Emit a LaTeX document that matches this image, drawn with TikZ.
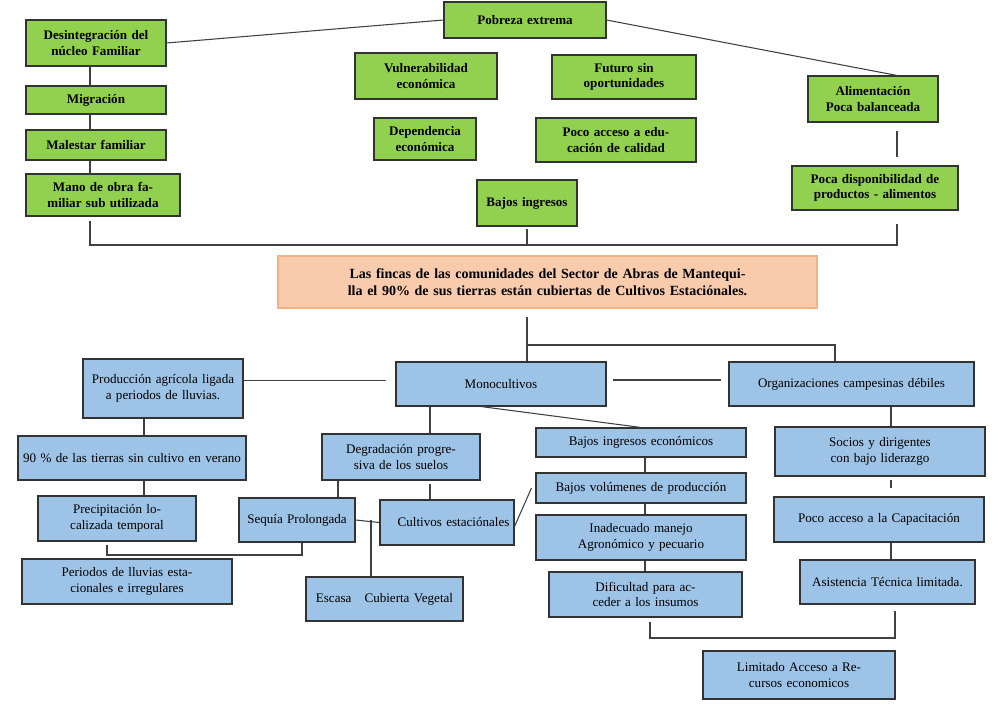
\documentclass[tikz,border=0pt]{standalone}
\usepackage{fontspec}
\setmainfont{Liberation Serif}
\definecolor{gr}{HTML}{92D050}
\definecolor{bl}{HTML}{9DC3E6}
\definecolor{sal}{HTML}{F8CBAD}
\definecolor{org}{HTML}{F4B183}
\newcommand\bx[7]{\pgfmathsetmacro\tw{(#5-#3)*0.75-6}\pgfmathsetmacro\th{(#6-#4)*0.75}%
\node[#1, text width=\tw pt, minimum height=\th pt] (#2) at ({(#3+#5)/2},{(#4+#6)/2}) {#7};}
\begin{document}
\begin{tikzpicture}[x=0.75pt,y=-0.75pt,
  base/.style={draw=black!80, line width=0.8pt, inner xsep=3pt, inner ysep=1pt, align=center, font=\fontsize{9.8}{11.5}\selectfont},
  g/.style={base, fill=gr, font=\bfseries\fontsize{9.8}{11.5}\selectfont},
  b/.style={base, fill=bl},
  c/.style={base, fill=sal, draw=org, font=\bfseries\fontsize{10.5}{12.5}\selectfont},
  ln/.style={draw=black!75, line width=0.8pt}]
\useasboundingbox (0,0) rectangle (1000,706);
% top
\bx{g}{pob}{444}{2}{606}{38}{Pobreza extrema}
\bx{g}{des}{26}{20}{166}{66}{Desintegración del núcleo Familiar}
\bx{g}{mig}{26}{86}{166}{114}{Migración}
\bx{g}{mal}{26}{130}{166}{160}{Malestar familiar}
\bx{g}{man}{26}{174}{180}{216}{Mano de obra familiar sub utilizada}
\bx{g}{vul}{355}{53}{497}{99}{Vulnerabilidad económica}
\bx{g}{dep}{374}{118}{476}{160}{Dependencia económica}
\bx{g}{fut}{552}{55}{696}{99}{Futuro sin oportunidades}
\bx{g}{edu}{536}{118}{696}{162}{Poco acceso a educación de calidad}
\bx{g}{ali}{808}{76}{938}{122}{Alimentación Poca balanceada}
\bx{g}{pdi}{792}{166}{958}{210}{Poca disponibilidad de productos - alimentos}
\bx{g}{bin}{477}{180}{577}{226}{Bajos ingresos}
\bx{c}{cen}{278}{256}{817}{308}{Las fincas de las comunidades del Sector de Abras de Mantequilla el 90\% de sus tierras están cubiertas de Cultivos Estaciónales.}
% bottom
\bx{b}{pag}{83}{359}{243}{418}{Producción agrícola ligada a periodos de lluvias.}
\bx{b}{mon}{396}{362}{606}{406}{Monocultivos}
\bx{b}{oca}{729}{362}{974}{406}{Organizaciones campesinas débiles}
\bx{b}{nov}{18}{436}{246}{480}{90 \% de las tierras sin cultivo en verano}
\bx{b}{deg}{322}{434}{480}{480}{Degradación progresiva de los suelos}
\bx{b}{bie}{536}{428}{746}{457}{Bajos ingresos económicos}
\bx{b}{soc}{775}{427}{985}{476}{Socios y dirigentes con bajo liderazgo}
\bx{b}{pre}{38}{496}{196}{541}{Precipitación localizada temporal}
\bx{b}{seq}{239}{498}{355}{542}{Sequía Prolongada}
\bx{b}{cul}{380}{500}{514}{545}{\hspace*{1em}Cultivos estaciónales}
\bx{b}{bvo}{536}{473}{746}{503}{Bajos volúmenes de producción}
\bx{b}{ina}{536}{515}{746}{560}{Inadecuado manejo Agronómico y pecuario}
\bx{b}{per,align=left}{22}{559}{232}{604}{Periodos de lluvias estacionales e irregulares}
\bx{b}{esc}{306}{577}{463}{621}{Escasa\quad Cubierta Vegetal}
\bx{b}{dif}{549}{572}{742}{617}{Dificultad para acceder a los insumos}
\bx{b}{pca}{774}{497}{984}{542}{Poco acceso a la Capacitación\\[0.9em]}
\bx{b}{asi}{800}{560}{975}{604}{Asistencia Técnica limitada.}
\bx{b}{lim}{703}{651}{895}{699}{Limitado Acceso a Recursos economicos}
% coordinates
\coordinate (x90) at (90,0);
\coordinate (x527) at (527,0);
\coordinate (x897) at (897,0);
\coordinate (y245) at (0,245);
\coordinate (y345) at (0,345);
\coordinate (x835) at (835,0);
\coordinate (x891) at (891,0);
\coordinate (x645) at (645,0);
\coordinate (x430) at (430,0);
\coordinate (x338) at (338,0);
\coordinate (x371) at (371,0);
\coordinate (x107) at (107,0);
\coordinate (x302) at (302,0);
\coordinate (y555) at (0,555);
\coordinate (x650) at (650,0);
\coordinate (x895) at (895,0);
\coordinate (y638) at (0,638);
\coordinate (x144) at (144,0);
% top connectors
\draw[ln] (des.east) -- (pob.west);
\draw[ln] (pob.east) -- (ali.north -| x897);
\draw[ln] (des.south -| x90) -- (mig.north -| x90);
\draw[ln] (mig.south -| x90) -- (mal.north -| x90);
\draw[ln] (mal.south -| x90) -- (man.north -| x90);
\draw[ln] (ali.south -| x897) ++(0,8) -- ([yshift=6pt]pdi.north -| x897);
\draw[ln] (man.south -| x90) ++(0,4) -- (y245 -| x90) -- (y245 -| x897) -- ([yshift=-10pt]pdi.south -| x897);
\draw[ln] (bin.south -| x527) ++(0,2) -- (y245 -| x527);
% center down
\draw[ln] (cen.south -| x527) ++(0,8) -- (mon.north -| x527);
\draw[ln] (y345 -| x527) -- (y345 -| x835) -- (oca.north -| x835);
\draw[ln] (pag.east) ++(0,-8) -- ++(142,0);
\draw[ln] (mon.east) ++(6,-4) -- ++(108,0);
\draw[ln] (pag.south -| x144) -- (nov.north -| x144);
\draw[ln] (nov.south -| x144) -- (pre.north -| x144);
\draw[ln] (mon.south) ++(-20,0) -- (bie.north);
\draw[ln] (mon.south -| x430) -- (deg.north -| x430);
\draw[ln] (deg.south -| x338) -- (seq.north -| x338);
\draw[ln] (deg.south -| x430) ++(0,3) -- (cul.north -| x430);
\draw[ln] (seq.east) -- (cul.west);
\draw[ln] (seq.east -| x371) -- (esc.north -| x371);
\draw[ln] (pre.south -| x107) ++(0,3) -- (y555 -| x107) -- (y555 -| x302) -- (seq.south -| x302);
\draw[ln] (cul.east) ++(0,4) -- ([xshift=-3pt]bvo.west);
\draw[ln] (bie.south -| x645) -- (bvo.north -| x645);
\draw[ln] (bvo.south -| x645) -- (ina.north -| x645);
\draw[ln] (ina.south -| x645) -- (dif.north -| x645);
\draw[ln] (oca.south -| x891) -- (soc.north -| x891);
\draw[ln] (soc.south -| x891) ++(0,3) -- ([yshift=6pt]pca.north -| x891);
\draw[ln] (pca.south -| x891) -- (asi.north -| x891);
\draw[ln] (dif.south -| x650) ++(0,4) -- (y638 -| x650) -- (y638 -| x895) -- ([yshift=-5pt]asi.south -| x895);
\end{tikzpicture}
\end{document}
